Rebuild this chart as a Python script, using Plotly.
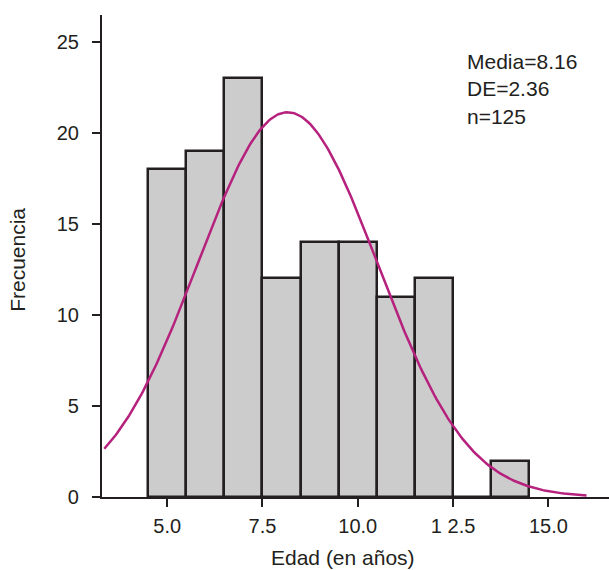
import numpy as np
import plotly.graph_objects as go

# Histogram data (bin centers, counts)
bin_centers = [5, 6, 7, 8, 9, 10, 11, 12, 13, 14]
counts = [18, 19, 23, 12, 14, 14, 11, 12, 0, 2]

# Stated statistics
media = 8.16
de = 2.36
n = 125
bin_width = 1.0

x_tick_vals = [5.0, 7.5, 10.0, 12.5, 15.0]
x_tick_text = ["5.0", "7.5", "10.0", "1 2.5", "15.0"]
y_tick_vals = [0, 5, 10, 15, 20, 25]

# Fitted normal curve from the stated mean / SD / n
xc = np.linspace(3.35, 16.0, 300)
yc = n * bin_width / (de * np.sqrt(2 * np.pi)) * np.exp(-0.5 * ((xc - media) / de) ** 2)

ink = "#231f20"
font_family = "Liberation Sans, Arial, sans-serif"

fig = go.Figure()
fig.add_trace(go.Bar(
    x=bin_centers, y=counts, width=bin_width,
    marker=dict(color="#cccccc", line=dict(color=ink, width=2.5)),
    hoverinfo="x+y",
))
fig.add_trace(go.Scatter(
    x=xc, y=yc, mode="lines",
    line=dict(color="#b5217d", width=2.5),
))

fig.update_layout(
    width=609, height=570,
    margin=dict(l=102, r=0, t=15, b=73),
    paper_bgcolor="white", plot_bgcolor="white",
    showlegend=False,
    bargap=0,
    font=dict(family=font_family, color=ink, size=20),
    xaxis=dict(
        range=[3.29, 16.59],
        tickvals=x_tick_vals, ticktext=x_tick_text,
        ticks="outside", ticklen=8, tickwidth=2, tickcolor=ink,
        showline=True, linecolor=ink, linewidth=2.2,
        showgrid=False, zeroline=False,
        tickfont=dict(size=20, color=ink),
        ticklabelstandoff=2,
    ),
    yaxis=dict(
        range=[0, 26.47],
        tickvals=y_tick_vals,
        ticks="outside", ticklen=8, tickwidth=2, tickcolor=ink,
        showline=True, linecolor=ink, linewidth=2.2,
        showgrid=False, zeroline=False,
        tickfont=dict(size=20, color=ink),
        ticklabelstandoff=9,
    ),
    annotations=[
        dict(text="Frecuencia", xref="paper", yref="paper",
             x=(18 - 102) / 507, y=0.492, textangle=-90,
             showarrow=False, xanchor="center", yanchor="middle",
             font=dict(size=21, color=ink)),
        dict(text="Edad (en años)", xref="paper", yref="paper",
             x=(342.5 - 102) / 507, y=-0.126,
             showarrow=False, xanchor="center", yanchor="middle",
             font=dict(size=21, color=ink)),
        dict(text=f"Media={media}<br>DE={de}<br>n={n}", xref="paper", yref="paper",
             x=(465 - 102) / 507, y=(497.3 - 48) / 482.3,
             showarrow=False, xanchor="left", yanchor="top", align="left",
             font=dict(size=21, color=ink)),
    ],
)

fig.write_html(
    "out.html",
    config={"displayModeBar": False},
    post_script="document.body.style.margin='0';document.body.style.overflow='hidden';",
)
